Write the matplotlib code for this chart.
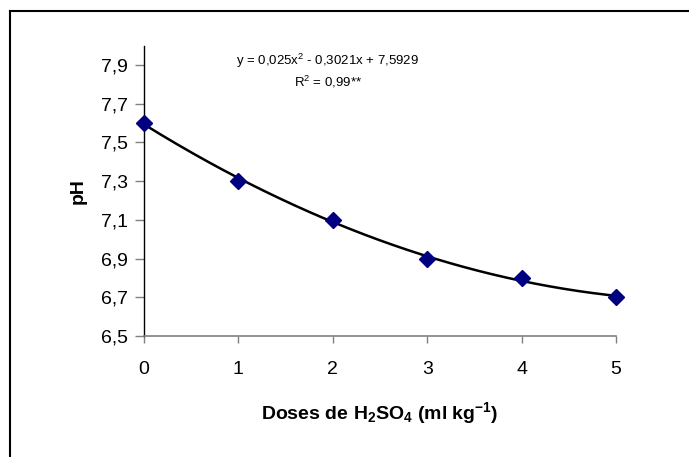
import numpy as np
import matplotlib
matplotlib.use("Agg")
import matplotlib.pyplot as plt
from matplotlib.lines import Line2D

plt.rcParams['font.family'] = ['Liberation Sans', 'DejaVu Sans']
plt.rcParams['mathtext.fontset'] = 'custom'
plt.rcParams['mathtext.rm'] = 'Liberation Sans'
plt.rcParams['mathtext.it'] = 'Liberation Sans'
plt.rcParams['mathtext.bf'] = 'Liberation Sans:bold'

doses = [0, 1, 2, 3, 4, 5]
ph = [7.6, 7.3, 7.1, 6.9, 6.8, 6.7]
coef = [0.025, -0.3021, 7.5929]
yticks = [6.5, 6.7, 6.9, 7.1, 7.3, 7.5, 7.7, 7.9]
ytick_labels = ['6,5', '6,7', '6,9', '7,1', '7,3', '7,5', '7,7', '7,9']

fig = plt.figure(figsize=(6.89, 4.57), dpi=100)
ax = fig.add_axes([144/689, 1-336/457, 472/689, 290.5/457])

xs = np.linspace(0, 5, 200)
ax.plot(xs, np.polyval(coef, xs), color='black', lw=1.8, zorder=2)
ax.plot(doses, ph, linestyle='none', marker='D', markersize=8,
        color='#000080', zorder=3, clip_on=False)

ax.set_xlim(0, 5)
ax.set_ylim(6.5, 8.0)
ax.set_xticks(doses)
ax.set_xticklabels([str(d) for d in doses])
ax.set_yticks(yticks)
ax.set_yticklabels(ytick_labels)
ax.spines['top'].set_visible(False)
ax.spines['right'].set_visible(False)
ax.spines['left'].set_color('black')
ax.spines['bottom'].set_color('#808080')
ax.spines['left'].set_linewidth(1.0)
ax.spines['bottom'].set_linewidth(1.2)
ax.tick_params(axis='both', direction='out', width=1,
               color='#808080', labelsize=14)
ax.tick_params(axis='y', length=6.5, pad=5)
ax.tick_params(axis='x', length=5, pad=13)

ax.set_xlabel(r'Doses de H$_\mathbf{2}$SO$_\mathbf{4}$ (ml kg$^\mathbf{-1}$)',
              fontsize=14, fontweight='bold', labelpad=16)
ax.set_ylabel('pH', fontsize=14, fontweight='bold', labelpad=10)

ax.text(0.389, 0.948, r'y = 0,025x$^2$ - 0,3021x + 7,5929', transform=ax.transAxes,
        ha='center', va='center', fontsize=9.5)
ax.text(0.389, 0.875, r'R$^2$ = 0,99**', transform=ax.transAxes,
        ha='center', va='center', fontsize=9.5)

# page frame: only left and top edges fall inside the image
fx = 10/689
fy = 1 - 11/457
fig.lines.append(Line2D([fx, fx], [-0.1, fy], transform=fig.transFigure,
                        color='black', lw=1.5, solid_capstyle='projecting'))
fig.lines.append(Line2D([fx, 1.1], [fy, fy], transform=fig.transFigure,
                        color='black', lw=1.5, solid_capstyle='projecting'))

fig.savefig('out.png', dpi=100)
